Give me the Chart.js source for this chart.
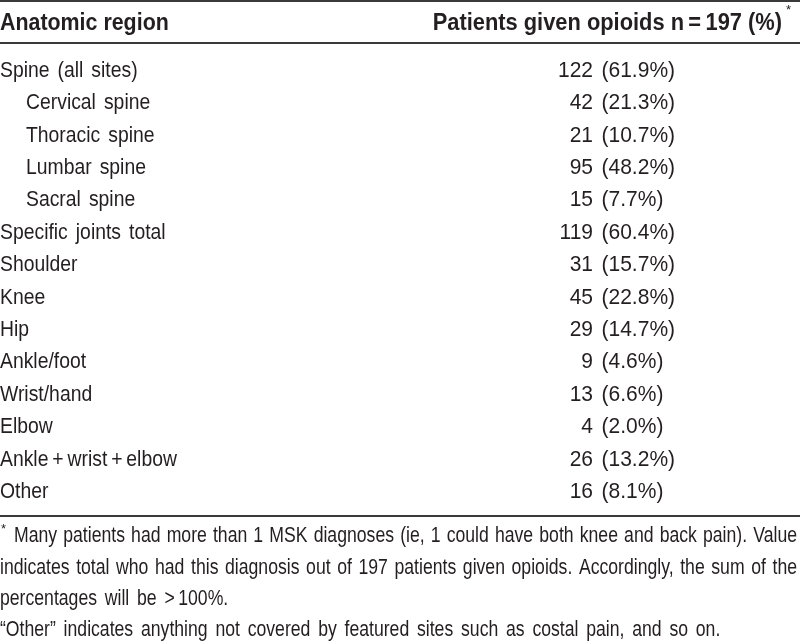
<!DOCTYPE html>
<html>
<head>
<meta charset="utf-8">
<script src="https://cdn.jsdelivr.net/npm/chart.js@4.4.1/dist/chart.umd.min.js"></script>
<style>
    html, body { margin: 0; padding: 0; background: #fff; }
    canvas { display: block; }
</style>
</head>
<body>
<canvas id="tableChart" width="800" height="643"></canvas>
<script>
// 表格數據
const regions = [
    'Spine (all sites)', 'Cervical spine', 'Thoracic spine', 'Lumbar spine', 'Sacral spine',
    'Specific joints total', 'Shoulder', 'Knee', 'Hip', 'Ankle/foot', 'Wrist/hand', 'Elbow',
    'Ankle\u2009+\u2009wrist\u2009+\u2009elbow', 'Other'
];
// 0 = 主項目, 1 = 子項目 (脊柱分部)
const levels = [0, 1, 1, 1, 1, 0, 0, 0, 0, 0, 0, 0, 0, 0];
const counts = [122, 42, 21, 95, 15, 119, 31, 45, 29, 9, 13, 4, 26, 16];
const percents = [61.9, 21.3, 10.7, 48.2, 7.7, 60.4, 15.7, 22.8, 14.7, 4.6, 6.6, 2.0, 13.2, 8.1];
const totalPatients = 197;

const headerLeft = 'Anatomic region';
const headerRight = 'Patients given opioids n\u2009=\u2009' + totalPatients + ' (%)';
const footnotes = [
    'Many patients had more than 1 MSK diagnoses (ie, 1 could have both knee and back pain). Value',
    'indicates total who had this diagnosis out of 197 patients given opioids. Accordingly, the sum of the',
    'percentages will be >\u2009100%.',
    '\u201COther\u201D indicates anything not covered by featured sites such as costal pain, and so on.'
];

const FONT = '"Liberation Sans", Arial, sans-serif';
const TEXT_COLOR = '#231f20';
const RULE_COLOR = '#3a3a3a';

// 繪製文字 (橫向壓縮模擬窄體字)
function drawText(ctx, text, x, y, opt) {
    ctx.save();
    ctx.font = (opt.bold ? 'bold ' : '') + opt.size + 'px ' + FONT;
    ctx.fillStyle = TEXT_COLOR;
    ctx.textAlign = opt.align || 'left';
    ctx.textBaseline = 'alphabetic';
    ctx.wordSpacing = (opt.ws || 0) + 'px';
    ctx.scale(opt.sx, 1);
    ctx.fillText(text, x / opt.sx, y);
    ctx.restore();
}

// 兩端對齊
function drawJustified(ctx, text, x, y, right, opt) {
    ctx.save();
    ctx.font = opt.size + 'px ' + FONT;
    ctx.fillStyle = TEXT_COLOR;
    ctx.textBaseline = 'alphabetic';
    ctx.scale(opt.sx, 1);
    const words = text.split(' ');
    const widths = words.map(w => ctx.measureText(w).width);
    const total = widths.reduce((a, b) => a + b, 0);
    const gap = ((right - x) / opt.sx - total) / (words.length - 1);
    let cx = x / opt.sx;
    words.forEach((w, i) => {
        ctx.fillText(w, cx, y);
        cx += widths[i] + gap;
    });
    ctx.restore();
}

const tablePlugin = {
    id: 'tableText',
    afterDatasetsDraw(chart) {
        const ctx = chart.ctx;
        const yScale = chart.scales.y;
        const w = chart.width;

        // 橫線
        ctx.save();
        ctx.fillStyle = RULE_COLOR;
        ctx.fillRect(0, 0, w, 2);
        ctx.fillRect(0, 42, w, 2);
        ctx.fillRect(0, 515, w, 2);
        ctx.restore();

        // 表頭
        drawText(ctx, headerLeft, 0, 29.5, { size: 23, bold: true, sx: 0.93 });
        drawText(ctx, headerRight, 782, 29.5, { size: 23, bold: true, sx: 0.95, align: 'right' });
        drawText(ctx, '*', 786, 14, { size: 13, sx: 1 });

        // 數據行
        regions.forEach((label, i) => {
            const y = yScale.getPixelForValue(i) + 7.8;
            drawText(ctx, label, levels[i] ? 26 : 0, y, { size: 22, sx: 0.88, ws: 3 });
            drawText(ctx, String(counts[i]), 593, y, { size: 22, sx: 0.955, align: 'right' });
            drawText(ctx, '(' + percents[i].toFixed(1) + '%)', 601.5, y, { size: 22, sx: 0.955 });
        });

        // 註腳
        const fOpt = { size: 21.5, sx: 0.82, ws: 3.5 };
        drawText(ctx, '*', 1, 533, { size: 13, sx: 1 });
        drawJustified(ctx, footnotes[0], 14, 542, 797, fOpt);
        drawJustified(ctx, footnotes[1], 0, 573.5, 797, fOpt);
        drawText(ctx, footnotes[2], 0, 605, fOpt);
        drawText(ctx, footnotes[3], 0, 636, fOpt);
    }
};

const chart = new Chart(document.getElementById('tableChart').getContext('2d'), {
    type: 'bar',
    data: {
        labels: regions,
        datasets: [{
            label: 'Patients given opioids',
            data: counts,
            backgroundColor: 'rgba(0, 0, 0, 0)',
            borderWidth: 0
        }]
    },
    options: {
        responsive: false,
        animation: false,
        indexAxis: 'y',
        layout: { padding: { top: 52.8, bottom: 136.6, left: 0, right: 0 } },
        plugins: {
            legend: { display: false },
            tooltip: { enabled: false }
        },
        scales: {
            x: { display: false, min: 0, max: totalPatients },
            y: { display: false }
        }
    },
    plugins: [tablePlugin]
});
</script>
</body>
</html>
